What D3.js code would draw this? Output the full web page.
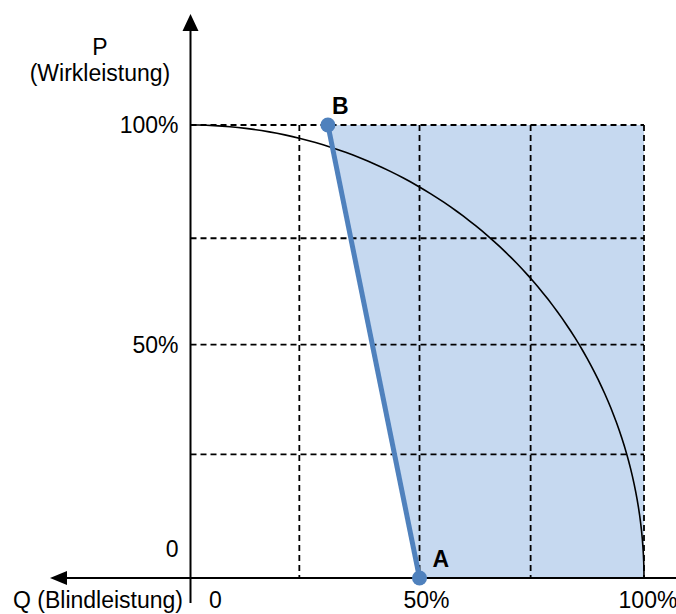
<!DOCTYPE html>
<html><head><meta charset="utf-8">
<script src="https://cdn.jsdelivr.net/npm/d3@7"></script>
<style>body{margin:0;background:#fff}svg{display:block}text{font-family:"Liberation Sans",Arial,sans-serif}</style>
</head><body><svg id="c" width="676" height="614"></svg>
<script>
// Data
const gridQ = [0.24, 0.505, 0.75, 1];
const gridP = [0.273, 0.515, 0.75, 1];
const pointNames = ["A", "B"];
const pointQ = [0.505, 0.303];
const pointP = [0, 1];
const xTickValues = [0, 0.505, 1];
const xTickLabels = ["0", "50%", "100%"];
const yTickValues = [0, 0.515, 1];
const yTickLabels = ["0", "50%", "100%"];
const arcSteps = d3.range(0, 91, 1); // degrees for quarter circle

const FS = 23;
const svg = d3.select("#c");
const x = d3.scaleLinear().domain([0, 1]).range([190.5, 644]);
const y = d3.scaleLinear().domain([0, 1]).range([578, 125]);

// shaded region
const poly = [[pointQ[1], pointP[1]], [1, 1], [1, 0], [pointQ[0], pointP[0]]];
svg.append("path")
  .attr("d", d3.line().x(d => x(d[0])).y(d => y(d[1]))(poly) + "Z")
  .attr("fill", "#c6d9f0");

// dashed grid
svg.selectAll(".gv").data(gridQ).join("line")
  .attr("x1", d => x(d)).attr("x2", d => x(d))
  .attr("y1", y(1)).attr("y2", y(0))
  .attr("stroke", "#000").attr("stroke-width", 1.8).attr("stroke-dasharray", "6,4");
svg.selectAll(".gh").data(gridP).join("line")
  .attr("y1", d => y(d)).attr("y2", d => y(d))
  .attr("x1", x(0)).attr("x2", x(1))
  .attr("stroke", "#000").attr("stroke-width", 1.8).attr("stroke-dasharray", "6,4");

// quarter circle
svg.append("path")
  .attr("d", d3.line().x(a => x(Math.cos(a * Math.PI / 180))).y(a => y(Math.sin(a * Math.PI / 180)))(arcSteps))
  .attr("fill", "none").attr("stroke", "#000").attr("stroke-width", 1.6);

// axes
svg.append("line").attr("x1", x(0)).attr("x2", x(0)).attr("y1", 28).attr("y2", 603)
  .attr("stroke", "#000").attr("stroke-width", 2);
svg.append("path").attr("d", `M${x(0)},14 L${x(0) - 8},31 L${x(0) + 8},31 Z`).attr("fill", "#000");
svg.append("line").attr("x1", 64).attr("x2", 676).attr("y1", y(0)).attr("y2", y(0))
  .attr("stroke", "#000").attr("stroke-width", 2);
svg.append("path").attr("d", `M50,${y(0)} L67,${y(0) - 7} L67,${y(0) + 7} Z`).attr("fill", "#000");

// line A-B
svg.append("line")
  .attr("x1", x(pointQ[0])).attr("y1", y(pointP[0]))
  .attr("x2", x(pointQ[1])).attr("y2", y(pointP[1]))
  .attr("stroke", "#4f81bd").attr("stroke-width", 5);
svg.selectAll(".pt").data(pointNames).join("circle")
  .attr("cx", (d, i) => x(pointQ[i])).attr("cy", (d, i) => y(pointP[i]))
  .attr("r", 7.5).attr("fill", "#4f81bd");
const labOff = {A: [13, -11], B: [4, -11]};
svg.selectAll(".pl").data(pointNames).join("text")
  .attr("x", (d, i) => x(pointQ[i]) + labOff[d][0])
  .attr("y", (d, i) => y(pointP[i]) + labOff[d][1])
  .attr("font-size", FS).attr("font-weight", "bold").text(d => d);

// y tick labels
const yLabDy = [-21, 8, 8];
svg.selectAll(".yt").data(yTickLabels).join("text")
  .attr("x", x(0) - 12).attr("y", (d, i) => y(yTickValues[i]) + yLabDy[i])
  .attr("text-anchor", "end").attr("font-size", FS).text(d => d);

// x tick labels
const xLabDx = [25, 7, 4];
svg.selectAll(".xt").data(xTickLabels).join("text")
  .attr("x", (d, i) => x(xTickValues[i]) + xLabDx[i]).attr("y", 608)
  .attr("text-anchor", "middle").attr("font-size", FS).text(d => d);

// axis titles
svg.append("text").attr("x", 100).attr("y", 55).attr("text-anchor", "middle").attr("font-size", FS).text("P");
svg.append("text").attr("x", 100).attr("y", 81).attr("text-anchor", "middle").attr("font-size", FS).text("(Wirkleistung)");
svg.append("text").attr("x", 13).attr("y", 608).attr("font-size", FS).text("Q (Blindleistung)");
</script></body></html>
